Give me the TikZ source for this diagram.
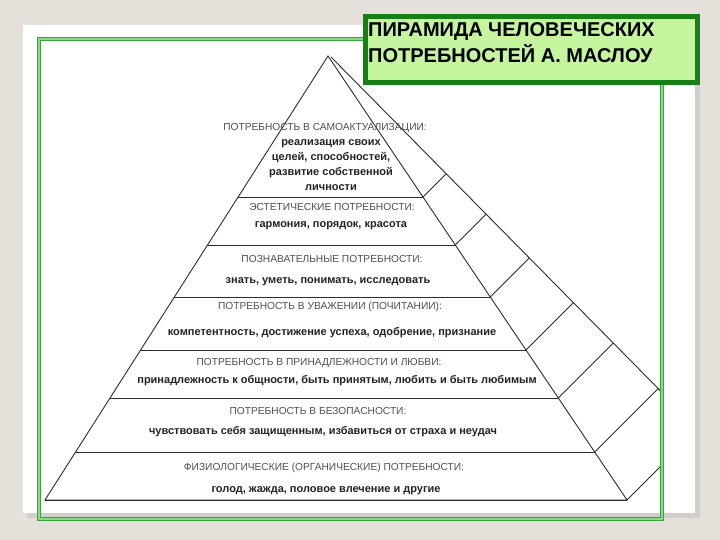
\documentclass[tikz,border=0pt]{standalone}
\usepackage{fontspec}
\setmainfont{Liberation Sans}
\usetikzlibrary{calc}
\definecolor{slidebg}{RGB}{229,225,218}
\definecolor{cardshadow}{RGB}{210,207,202}
\definecolor{framegreen}{RGB}{55,165,55}
\definecolor{framelight}{RGB}{140,215,140}
\definecolor{titlefill}{RGB}{198,245,160}
\definecolor{titleline}{RGB}{22,128,22}
\definecolor{headgray}{RGB}{80,80,80}
\definecolor{textdark}{RGB}{35,35,35}
\definecolor{edgegray}{RGB}{45,45,45}
\tikzset{
  edge/.style={draw=edgegray, line width=0.9pt},
  head/.style={font=\fontsize{10.2}{12}\selectfont, text=headgray, inner sep=0pt, anchor=base},
  desc/.style={font=\fontsize{11}{15}\selectfont\bfseries, text=textdark, inner sep=0pt, anchor=base, align=center},
}

\begin{document}
\begin{tikzpicture}[x=1pt,y=-1pt]
    \useasboundingbox (0,0) rectangle (720,540);
    \fill[slidebg] (0,0) rectangle (720,540);
    \fill[cardshadow] (27,29) rectangle (700,518);
    \fill[white] (23,25) rectangle (695,513);

    \coordinate (apex) at (328,56);
    \coordinate (baseL) at (45,500);
    \coordinate (baseR) at (627,500);
    \coordinate (sideT) at (331,57); % outer edge of the side face
    \coordinate (sideB) at (705,436);

    \begin{scope}
        \clip (41,41) rectangle (660,517);
        \draw[edge] (baseL) -- (apex) -- (baseR) -- cycle;
        \draw[edge] (sideT) -- (sideB);
        \foreach \y in {197,245,297,350,398,452,500}{
            \coordinate (l) at ($(apex)!{(\y-56)/444}!(baseL)$);
            \coordinate (r) at ($(apex)!{(\y-56)/444}!(baseR)$);
            \coordinate (rr) at ($(r)+(10,-10)$);
            \draw[edge] (l) -- (r);
            \draw[edge] (r) -- (intersection of r--rr and sideT--sideB);
        }
    \end{scope}

    \draw[framegreen, line width=1.4pt, double=framelight, double distance=1.1pt] (39,39) rectangle (662,519);

    % levels, top to bottom
    \node[head] (h1) at (325,130.5) {ПОТРЕБНОСТЬ В САМОАКТУАЛИЗАЦИИ:};
    \node[desc] (d1) at (331,190.5) {реализация своих\\целей, способностей,\\развитие собственной\\личности};
    \node[head] (h2) at (332,210.5) {ЭСТЕТИЧЕСКИЕ ПОТРЕБНОСТИ:};
    \node[desc] (d2) at (331,227.5) {гармония, порядок, красота};
    \node[head] (h3) at (332,262) {ПОЗНАВАТЕЛЬНЫЕ ПОТРЕБНОСТИ:};
    \node[desc] (d3) at (328,283) {знать, уметь, понимать, исследовать};
    \node[head] (h4) at (330,309) {ПОТРЕБНОСТЬ В УВАЖЕНИИ (ПОЧИТАНИИ):};
    \node[desc] (d4) at (332,335) {компетентность, достижение успеха, одобрение, признание};
    \node[head] (h5) at (319,365.5) {ПОТРЕБНОСТЬ В ПРИНАДЛЕЖНОСТИ И ЛЮБВИ:};
    \node[desc] (d5) at (337,383) {принадлежность к общности, быть принятым, любить и быть любимым};
    \node[head] (h6) at (318,414) {ПОТРЕБНОСТЬ В БЕЗОПАСНОСТИ:};
    \node[desc] (d6) at (323,434.5) {чувствовать себя защищенным, избавиться от страха и неудач};
    \node[head] (h7) at (324,470) {ФИЗИОЛОГИЧЕСКИЕ (ОРГАНИЧЕСКИЕ) ПОТРЕБНОСТИ:};
    \node[desc] (d7) at (326,492) {голод, жажда, половое влечение и другие};

    % title
    \node[draw=titleline, fill=titlefill, line width=5pt, minimum width=332pt, minimum height=66pt, anchor=north west, inner sep=0pt] (title) at (362.5,14.5) {};
    \node[font=\fontsize{20}{26}\selectfont\bfseries, align=left, anchor=base west, inner sep=0pt] (titletxt) at (368,63) {ПИРАМИДА ЧЕЛОВЕЧЕСКИХ\\ПОТРЕБНОСТЕЙ А. МАСЛОУ};
\end{tikzpicture}
\end{document}
